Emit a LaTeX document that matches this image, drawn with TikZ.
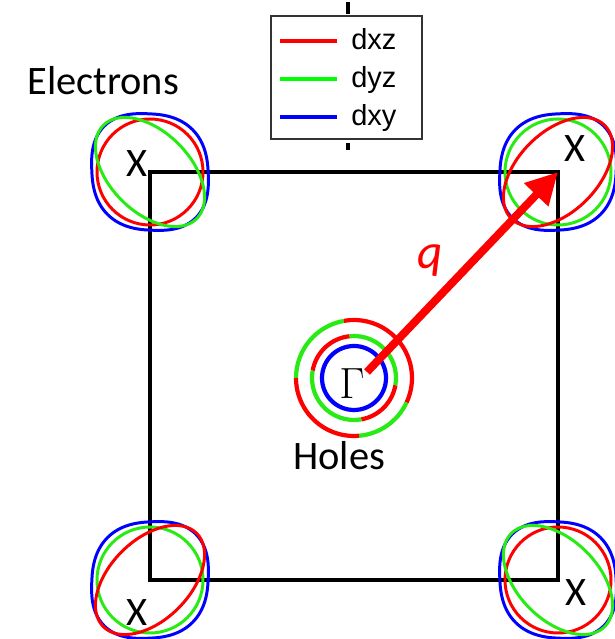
\documentclass[tikz,border=0pt]{standalone}
\usepackage{fontspec}
\newfontfamily\calibri{Carlito}
\newfontfamily\arial{Liberation Sans}
\usepackage{xcolor}
\usepackage{tikz}
\usetikzlibrary{arrows.meta}
\definecolor{bandred}{RGB}{255,0,0}
\definecolor{bandgreen}{RGB}{40,235,20}
\definecolor{bandblue}{RGB}{0,0,255}

\begin{document}
\begin{tikzpicture}[x=0.02cm, y=0.02cm,
  lbl/.style={font=\calibri\fontsize{23}{27}\selectfont, inner sep=0pt},
  leg/.style={font=\arial\fontsize{16.5}{19}\selectfont, inner sep=0pt},
  pocket/.style={line width=1.7pt},
  ring/.style={line width=2.4pt},
  >={Triangle[length=18pt,width=18pt]}
]
  \useasboundingbox (0,0) rectangle (615,639);
  % zone corners (X points) and Gamma
  \coordinate (tl)  at (150,467);
  \coordinate (tr)  at (558,467);
  \coordinate (bl)  at (150,59);
  \coordinate (br)  at (558,59);
  \coordinate (ctr) at (354,261);
  \coordinate (qfrom) at (367,267);

  \draw[line width=1.9pt] (bl) rectangle (tr);

  % electron pockets
  \foreach \p/\d in {tl/-45,br/-45,tr/45,bl/45}
    \draw[pocket, bandblue, shift={(\p)}, rotate=\d, xscale=1.08, rotate=-\d]
      plot[smooth cycle, domain=0.5:355.5, samples=72]
      ({56*sign(cos(\x))*abs(cos(\x))^0.8}, {56*sign(sin(\x))*abs(sin(\x))^0.8});
  \foreach \p in {tl,br} {
    \draw[pocket, bandred] (\p) circle[radius=53];
    \draw[pocket, bandgreen, rotate around={-45:(\p)}] (\p) ellipse[x radius=66, y radius=40];
  }
  \foreach \p in {tr,bl} {
    \draw[pocket, bandgreen] (\p) circle[radius=53];
    \draw[pocket, bandred, rotate around={45:(\p)}] (\p) ellipse[x radius=66, y radius=40];
  }

  % hole pockets
  \foreach \col/\a/\b in {bandgreen/180/100, bandred/100/-25, bandgreen/-25/-85, bandred/-85/-180}
    \draw[ring, \col] (ctr) ++(\a:58) arc[start angle=\a, end angle=\b, radius=58];
  \foreach \col/\a/\b in {bandred/170/96, bandgreen/96/-10, bandred/-10/-80, bandgreen/-80/-190}
    \draw[ring, \col] (ctr) ++(\a:42) arc[start angle=\a, end angle=\b, radius=42];
  \draw[ring, bandblue] (ctr) circle[radius=32];

  \node[inner sep=0pt, font=\fontsize{30}{34}\selectfont] (gam) at (352,255) {$\Gamma$};

  % nesting vector
  \draw[->, bandred, line width=4.5pt] (qfrom) -- (tr);
  \node[inner sep=0pt, text=bandred, font=\calibri\itshape\fontsize{28}{32}\selectfont] (qlbl) at (430,378) {q};

  % labels
  \node[lbl, anchor=base west] (elec)  at (27,544) {Electrons};
  \node[lbl, anchor=base west] (holes) at (293,169) {Holes};
  \node[lbl] (xtl) at (137,475) {X};
  \node[lbl] (xtr) at (575,490) {X};
  \node[lbl] (xbl) at (137,26)  {X};
  \node[lbl] (xbr) at (576,46)  {X};

  % legend
  \draw[line width=2.3pt] (348,625) -- (348,637);
  \draw[line width=2.3pt] (348,489) -- (348,496);
  \draw[line width=0.9pt, draw=black!80, fill=white] (271,500) rectangle (422,623);
  \foreach \col/\txt/\y [count=\i] in {red/dxz/598, green/dyz/560, blue/dxy/522} {
    \draw[line width=2.8pt, \col] (280,\y) -- (337,\y);
    \node[leg, anchor=base west] (leg\i) at (351,{\y-9}) {\txt};
  }
\end{tikzpicture}
\end{document}
